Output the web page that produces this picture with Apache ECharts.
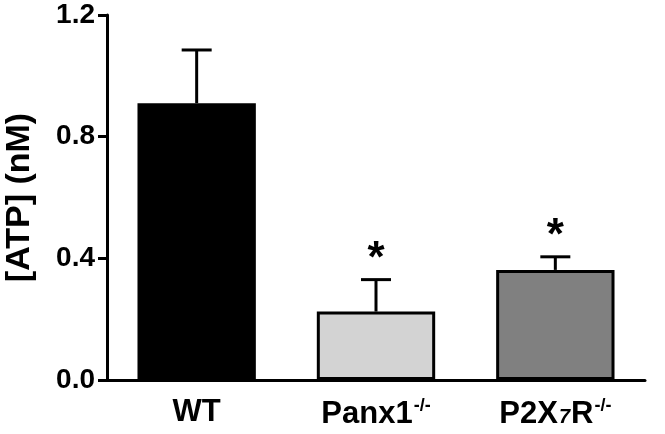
<!DOCTYPE html>
<html>
<head>
<meta charset="utf-8">
<script src="https://cdn.jsdelivr.net/npm/echarts@6/dist/echarts.min.js"></script>
<style>
  html, body { margin: 0; padding: 0; background: #fff; }
  #chart { width: 665px; height: 434px; }
</style>
</head>
<body>
<div id="chart"></div>
<script>
// data
const groups = ['WT', 'Panx1', 'P2X7R'];
const groupLabels = ['{b|WT}', '{b|Panx1}{sup|-/-}', '{b|P2X}{sub|7}{b|R}{sup|-/-}'];
const atpMean = [0.91, 0.225, 0.362];
const atpSem = [0.175, 0.105, 0.043];
const signif = ['', '*', '*'];
const barColors = ['#000000', '#d3d3d3', '#808080'];
const yTicks = [0, 0.4, 0.8, 1.2];

const font = 'Liberation Sans, Arial, sans-serif';
const chart = echarts.init(document.getElementById('chart'));

const option = {
  animation: false,
  grid: { left: 107, right: 20, top: 15, bottom: 54, outerBoundsMode: 'none' },
  xAxis: {
    type: 'category',
    data: groups,
    axisLine: { lineStyle: { color: '#000', width: 3 } },
    axisTick: { alignWithLabel: true, length: 9, lineStyle: { color: '#000', width: 3 } },
    axisLabel: {
      interval: 0,
      margin: 17,
      formatter: (v, i) => groupLabels[i],
      rich: {
        b: { fontFamily: font, fontWeight: 'bold', fontSize: 31, color: '#000' },
        sup: { fontFamily: font, fontWeight: 'bold', fontSize: 18, color: '#000', padding: [0, 0, 16, 1] },
        sub: { fontFamily: font, fontWeight: 'bold', fontStyle: 'italic', fontSize: 20, color: '#000', padding: [6, 1, 0, 1] }
      }
    }
  },
  yAxis: {
    type: 'value',
    min: 0,
    max: 1.2,
    interval: 0.4,
    name: '[ATP] (nM)',
    nameLocation: 'middle',
    nameGap: 70,
    nameTextStyle: { fontFamily: font, fontWeight: 'bold', fontSize: 34, color: '#000' },
    splitLine: { show: false },
    axisLine: { show: true, lineStyle: { color: '#000', width: 3 } },
    axisTick: { show: true, length: 9, lineStyle: { color: '#000', width: 3 } },
    axisLabel: {
      margin: 12,
      fontFamily: font, fontWeight: 'bold', fontSize: 28, color: '#000',
      formatter: v => yTicks.includes(+v.toFixed(1)) ? v.toFixed(1) : ''
    }
  },
  series: [
    {
      type: 'bar',
      barWidth: '66%',
      z: 2,
      data: atpMean.map((v, i) => ({
        value: v,
        itemStyle: { color: barColors[i], borderColor: '#000', borderWidth: 3 }
      }))
    },
    {
      type: 'custom',
      z: 3,
      data: atpMean.map((v, i) => [i, v, atpSem[i]]),
      renderItem: (params, api) => {
        const i = api.value(0);
        const base = api.coord([i, api.value(1)]);
        const top = api.coord([i, api.value(1) + api.value(2)]);
        const cap = 15;
        const children = [
          { type: 'line', shape: { x1: base[0], y1: base[1], x2: top[0], y2: top[1] },
            style: { stroke: '#000', lineWidth: 3 } },
          { type: 'line', shape: { x1: top[0] - cap, y1: top[1], x2: top[0] + cap, y2: top[1] },
            style: { stroke: '#000', lineWidth: 3 } }
        ];
        const mark = signif[params.dataIndex];
        if (mark) {
          children.push({
            type: 'text',
            x: top[0], y: top[1] + 2,
            style: { text: mark, fontFamily: font, fontWeight: 'bold', fontSize: 44,
                     fill: '#000', align: 'center', verticalAlign: 'bottom' }
          });
        }
        return { type: 'group', children };
      }
    }
  ]
};
chart.setOption(option);
</script>
</body>
</html>
